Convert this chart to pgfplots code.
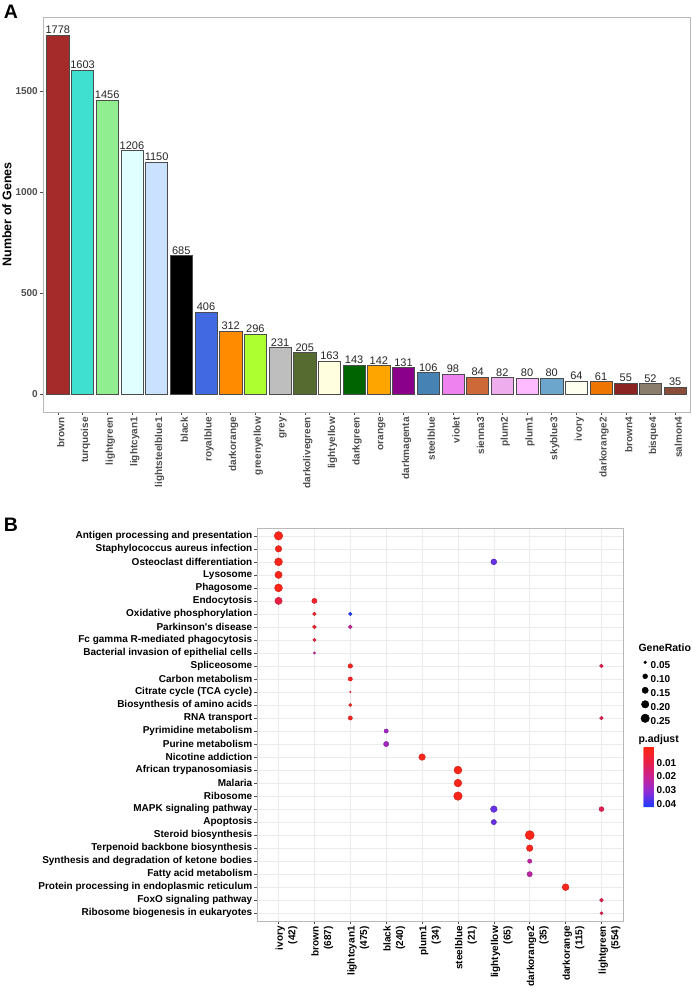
\documentclass[border=0pt]{standalone}
\usepackage{pgfplots}
\usepackage{pgfplotstable}
\pgfplotsset{compat=1.18}
\usepackage{fontspec}
\setmainfont{Liberation Sans}
\newcommand{\fs}[1]{\fontsize{#1bp}{#1bp}\selectfont}

\definecolor{cbrown}{HTML}{A52A2A}
\definecolor{cturquoise}{HTML}{40E0D0}
\definecolor{clightgreen}{HTML}{90EE90}
\definecolor{clightcyan}{HTML}{E0FFFF}
\definecolor{clightsteelblue}{HTML}{CAE1FF}
\definecolor{cblack}{HTML}{000000}
\definecolor{croyalblue}{HTML}{4169E1}
\definecolor{cdarkorange}{HTML}{FF8C00}
\definecolor{cgreenyellow}{HTML}{ADFF2F}
\definecolor{cgrey}{HTML}{BEBEBE}
\definecolor{cdarkolivegreen}{HTML}{556B2F}
\definecolor{clightyellow}{HTML}{FFFFE0}
\definecolor{cdarkgreen}{HTML}{006400}
\definecolor{corange}{HTML}{FFA500}
\definecolor{cdarkmagenta}{HTML}{8B008B}
\definecolor{csteelblue}{HTML}{4682B4}
\definecolor{cviolet}{HTML}{EE82EE}
\definecolor{csienna}{HTML}{CD6839}
\definecolor{cplumtwo}{HTML}{EEAEEE}
\definecolor{cplumone}{HTML}{FFBBFF}
\definecolor{cskyblue}{HTML}{6CA6CD}
\definecolor{civory}{HTML}{FFFFF0}
\definecolor{cdarkorangetwo}{HTML}{EE7600}
\definecolor{cbrownfour}{HTML}{8B2323}
\definecolor{cbisque}{HTML}{8B7D6B}
\definecolor{csalmon}{HTML}{8B4C39}
\definecolor{tickgrey}{HTML}{4D4D4D}

\pgfplotstableread{
x y r p
0 1 0.25 0.0005
0 2 0.16 0.0008
0 3 0.22 0.0005
0 4 0.19 0.0008
0 5 0.22 0.0005
0 6 0.19 0.009
1 6 0.11 0.004
1 7 0.066 0.004
1 8 0.073 0.004
1 9 0.059 0.005
1 10 0.041 0.022
2 7 0.066 0.042
2 8 0.073 0.021
2 11 0.091 0.002
2 12 0.083 0.002
2 13 0.031 0.003
2 14 0.059 0.003
2 15 0.083 0.002
3 16 0.083 0.028
3 17 0.113 0.028
4 18 0.16 0.001
5 19 0.22 0.0005
5 20 0.21 0.0005
5 21 0.25 0.0005
6 3 0.134 0.035
6 22 0.16 0.035
6 23 0.113 0.035
7 24 0.28 0.0005
7 25 0.16 0.001
7 26 0.083 0.022
7 27 0.113 0.023
8 28 0.17 0.001
9 11 0.073 0.011
9 15 0.073 0.011
9 22 0.10 0.011
9 29 0.073 0.011
9 30 0.059 0.011
}\enrich

\begin{document}
\begin{tikzpicture}
\useasboundingbox (0bp,0bp) rectangle (692bp,-992bp);

% ---------------- Panel A ----------------
\begin{axis}[
  at={(43bp,-412bp)}, anchor=south west, scale only axis,
  width=647bp, height=395bp,
  xmin=0.4, xmax=26.6, ymin=-88.9, ymax=1866.9,
  axis line style={draw=gray!55, line width=0.6bp},
  tick align=outside, major tick length=3bp,
  xtick pos=bottom, ytick pos=left,
  tick style={draw=gray!60!black, line width=0.5bp},
  xtick={1,...,26},
  xticklabels={brown,turquoise,lightgreen,lightcyan1,lightsteelblue1,black,royalblue,darkorange,greenyellow,grey,darkolivegreen,lightyellow,darkgreen,orange,darkmagenta,steelblue,violet,sienna3,plum2,plum1,skyblue3,ivory,darkorange2,brown4,bisque4,salmon4},
  ytick={0,500,1000,1500},
  xticklabel style={xshift=3bp, rotate=90, anchor=east, font=\fs{10}\bfseries, text=tickgrey, inner sep=2bp},
  yticklabel style={font=\fs{10}\bfseries, text=tickgrey, inner sep=2bp},
  /pgf/number format/1000 sep={}, /pgf/number format/assume math mode=true,
  ylabel={Number of Genes},
  ylabel style={font=\fs{12.5}\bfseries, at={(axis description cs:-0.0556,0.5)}, anchor=center},
  nodes near coords,
  nodes near coords style={font=\fs{11}, anchor=south, inner sep=1bp, text=black!85},
  every axis plot/.append style={ybar, bar width=0.9, draw=black!70, line width=0.5bp},
  clip=false,
]
\addplot[fill=cbrown] coordinates {(1,1778)};
\addplot[fill=cturquoise] coordinates {(2,1603)};
\addplot[fill=clightgreen] coordinates {(3,1456)};
\addplot[fill=clightcyan] coordinates {(4,1206)};
\addplot[fill=clightsteelblue] coordinates {(5,1150)};
\addplot[fill=cblack] coordinates {(6,685)};
\addplot[fill=croyalblue] coordinates {(7,406)};
\addplot[fill=cdarkorange] coordinates {(8,312)};
\addplot[fill=cgreenyellow] coordinates {(9,296)};
\addplot[fill=cgrey] coordinates {(10,231)};
\addplot[fill=cdarkolivegreen] coordinates {(11,205)};
\addplot[fill=clightyellow] coordinates {(12,163)};
\addplot[fill=cdarkgreen] coordinates {(13,143)};
\addplot[fill=corange] coordinates {(14,142)};
\addplot[fill=cdarkmagenta] coordinates {(15,131)};
\addplot[fill=csteelblue] coordinates {(16,106)};
\addplot[fill=cviolet] coordinates {(17,98)};
\addplot[fill=csienna] coordinates {(18,84)};
\addplot[fill=cplumtwo] coordinates {(19,82)};
\addplot[fill=cplumone] coordinates {(20,80)};
\addplot[fill=cskyblue] coordinates {(21,80)};
\addplot[fill=civory] coordinates {(22,64)};
\addplot[fill=cdarkorangetwo] coordinates {(23,61)};
\addplot[fill=cbrownfour] coordinates {(24,55)};
\addplot[fill=cbisque] coordinates {(25,52)};
\addplot[fill=csalmon] coordinates {(26,35)};
\end{axis}

\node[font=\fs{19.5}\bfseries, anchor=center] at (11bp,-12bp) {A};
\node[font=\fs{19.5}\bfseries, anchor=center] at (11bp,-525bp) {B};

% ---------------- Panel B ----------------
\begin{axis}[
  at={(257bp,-921bp)}, anchor=south west, scale only axis,
  width=366bp, height=393bp,
  xmin=-0.6, xmax=9.6, ymin=0.4, ymax=30.6, y dir=reverse,
  axis line style={draw=gray!55, line width=0.6bp},
  tick align=outside, major tick length=3bp,
  xtick pos=bottom, ytick pos=left,
  tick style={draw=gray!60!black, line width=0.5bp},
  grid=major, major grid style={draw=black!8, line width=0.6bp},
  xtick={0,...,9}, ytick={1,...,30},
  xticklabels={{ivory\\(42)},{brown\\(687)},{lightcyan1\\(475)},{black\\(240)},{plum1\\(34)},{steelblue\\(21)},{lightyellow\\(65)},{darkorange2\\(35)},{darkorange\\(115)},{lightgreen\\(554)}},
  yticklabels={Antigen processing and presentation,Staphylococcus aureus infection,Osteoclast differentiation,Lysosome,Phagosome,Endocytosis,Oxidative phosphorylation,Parkinson\textquotesingle s disease,Fc gamma R-mediated phagocytosis,Bacterial invasion of epithelial cells,Spliceosome,Carbon metabolism,Citrate cycle (TCA cycle),Biosynthesis of amino acids,RNA transport,Pyrimidine metabolism,Purine metabolism,Nicotine addiction,African trypanosomiasis,Malaria,Ribosome,MAPK signaling pathway,Apoptosis,Steroid biosynthesis,Terpenoid backbone biosynthesis,Synthesis and degradation of ketone bodies,Fatty acid metabolism,Protein processing in endoplasmic reticulum,FoxO signaling pathway,Ribosome biogenesis in eukaryotes},
  xticklabel style={xshift=8bp, rotate=90, anchor=east, align=right, font={\fontsize{10bp}{12.5bp}\selectfont\bfseries}, inner sep=2bp},
  yticklabel style={font=\fs{10}\bfseries, anchor=east, inner sep=1.5bp},
  colormap={rb}{rgb255=(255,38,15) rgb255=(232,32,72) rgb255=(200,34,148) rgb255=(140,44,215) rgb255=(25,60,255)},
  point meta min=-0.0014, point meta max=0.0425,
  colorbar sampled={surf, mark=none, shader=flat corner, samples=61},
  colorbar style={
    at={(635bp,-747bp)}, anchor=north west,
    scale only axis, width=11bp, height=60bp, y dir=reverse,
    ytick={0.01,0.02,0.03,0.04},
    scaled y ticks=false,
    yticklabel pos=right,
    yticklabel style={font=\fs{10}\bfseries, inner sep=2bp,
      /pgf/number format/fixed, /pgf/number format/precision=2, /pgf/number format/fixed zerofill,
      /pgf/number format/assume math mode=true},
    major tick length=0pt, axis line style={draw=none},
  },
  legend style={at={(axis description cs:1.0478,0.67)}, anchor=north west, draw=none, fill=none,
    font=\fs{10}\bfseries, inner sep=0pt, row sep=0bp,
    nodes={inner sep=1bp, text height=8bp, text depth=2bp},
    /tikz/every even column/.append style={column sep=2bp}},
  legend cell align=left,
  legend image code/.code={\path[draw=none, fill=none] (-4.5bp,-1bp) rectangle (4.5bp,8bp); \draw[#1] plot coordinates {(0bp,3.6bp)};},
  clip=false,
]
\addplot[scatter, only marks, mark=*, scatter src=explicit, forget plot,
  visualization depends on={\thisrow{r} \as \ratio},
  scatter/@pre marker code/.append style={/tikz/mark size={sqrt(350*\ratio-7)/2-0.2}}]
  table[x=x, y=y, meta=p] {\enrich};
\addlegendimage{only marks, mark=*, black, mark size=1.42}
\addlegendentry{0.05}
\addlegendimage{only marks, mark=*, black, mark size=2.45}
\addlegendentry{0.10}
\addlegendimage{only marks, mark=*, black, mark size=3.17}
\addlegendentry{0.15}
\addlegendimage{only marks, mark=*, black, mark size=3.77}
\addlegendentry{0.20}
\addlegendimage{only marks, mark=*, black, mark size=4.28}
\addlegendentry{0.25}
\end{axis}
\node[anchor=base west, font=\fs{10.5}\bfseries] at (635bp,-742bp) {p.adjust};
\node[anchor=base west, font=\fs{10.5}\bfseries] at (635bp,-651bp) {GeneRatio};
\end{tikzpicture}
\end{document}
